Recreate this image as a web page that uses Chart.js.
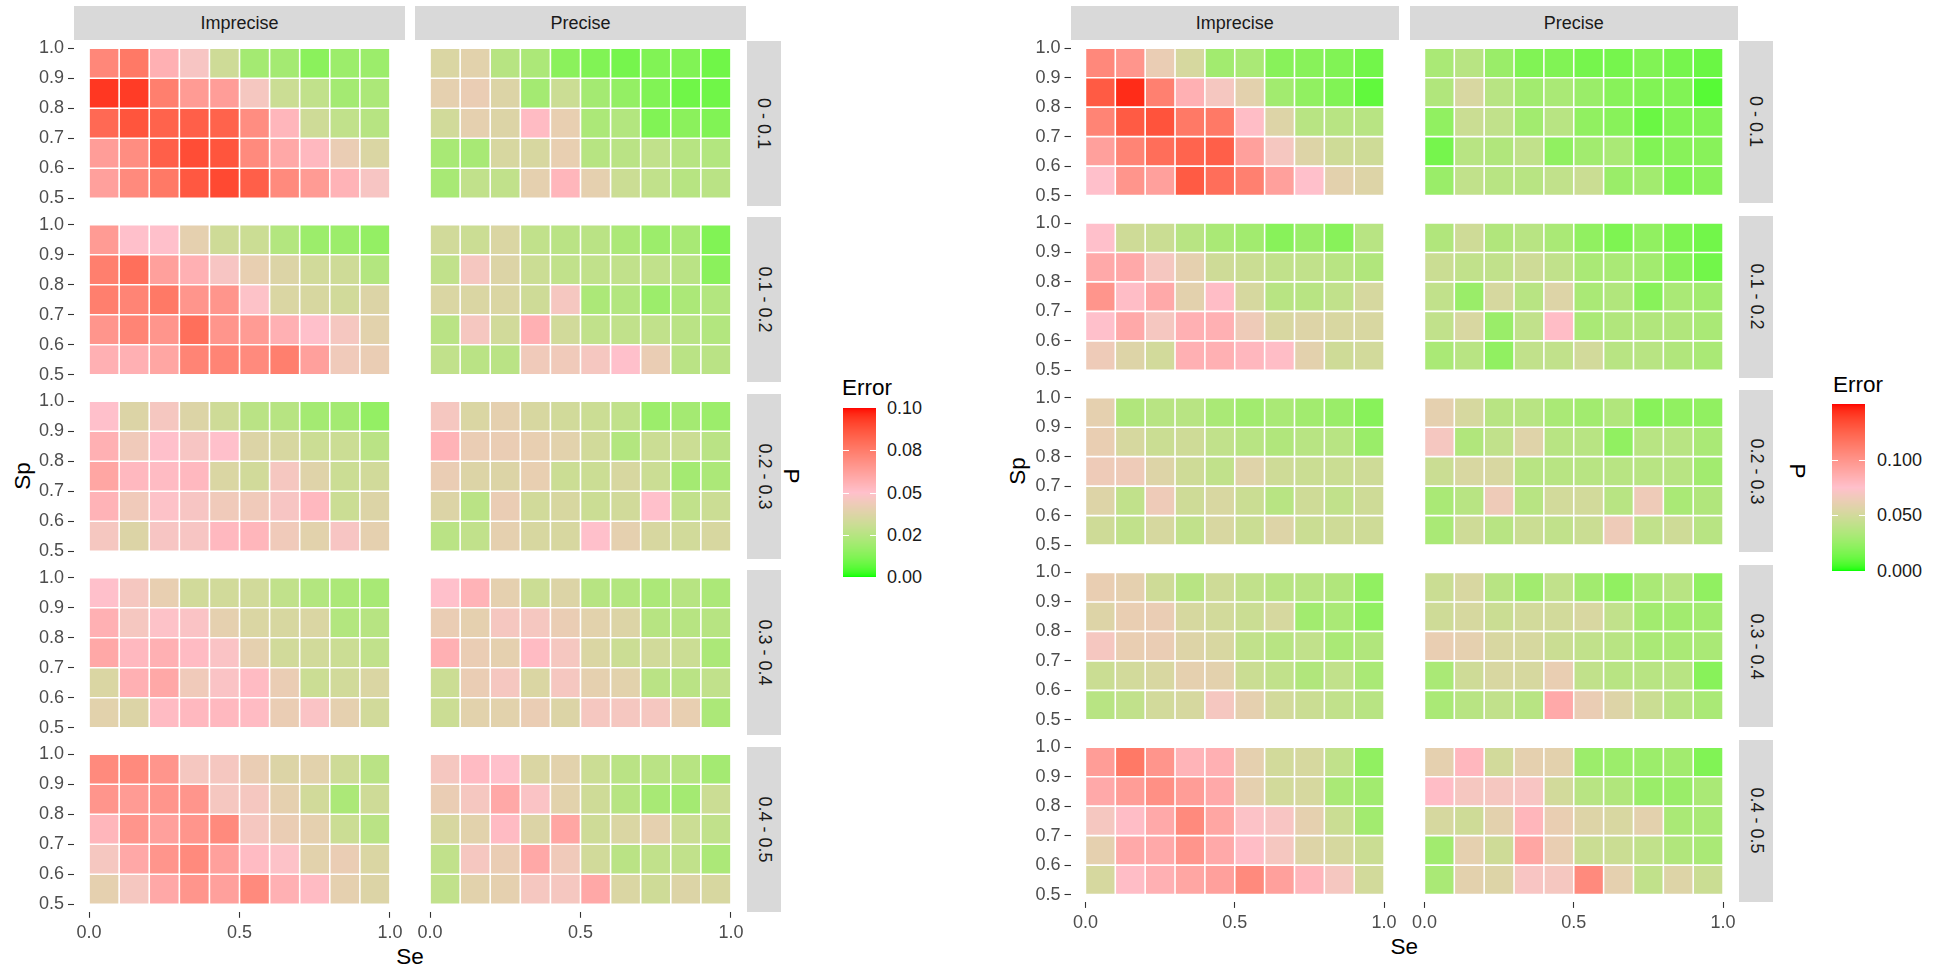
<!DOCTYPE html>
<html>
<head>
<meta charset="utf-8">
<script src="https://cdn.jsdelivr.net/npm/chart.js@4.4.1/dist/chart.umd.min.js"></script>
<style>
  html, body { margin: 0; padding: 0; background: #ffffff; }
  body { width: 1943px; height: 967px; position: relative; overflow: hidden;
         font-family: "Liberation Sans", Arial, sans-serif; }
  canvas { position: absolute; }
  .strip { position: absolute; background: #d9d9d9; color: #1a1a1a; font-size: 18px;
           display: flex; align-items: center; justify-content: center; white-space: nowrap; }
  .strip span.v { display: inline-block; transform: rotate(90deg); }
  .txt { position: absolute; white-space: nowrap; line-height: 1; }
</style>
</head>
<body>
<script>
// ---- categories and ticks ----
const seMid = [0.05, 0.15, 0.25, 0.35, 0.45, 0.55, 0.65, 0.75, 0.85, 0.95];
const spMid = [0.95, 0.85, 0.75, 0.65, 0.55];           // row order of every value grid
const pBands = ["0 - 0.1", "0.1 - 0.2", "0.2 - 0.3", "0.3 - 0.4", "0.4 - 0.5"];
const methods = ["Imprecise", "Precise"];
const xTicks = [0, 0.5, 1];
const yTicks = [0.5, 0.6, 0.7, 0.8, 0.9, 1.0];
const leftBreaks = [0, 0.025, 0.05, 0.075, 0.1];
const leftBreakLabels = ["0.00", "0.02", "0.05", "0.08", "0.10"];
const rightBreaks = [0, 0.05, 0.1];
const rightBreakLabels = ["0.000", "0.050", "0.100"];

// ---- Error values: [P band][Sp row][Se column] ----
const leftImprecise = [
  [[0.071,0.076,0.056,0.047,0.032,0.020,0.020,0.014,0.018,0.018],
   [0.094,0.093,0.074,0.064,0.063,0.046,0.031,0.028,0.020,0.022],
   [0.081,0.087,0.083,0.084,0.083,0.069,0.054,0.032,0.028,0.025],
   [0.063,0.069,0.084,0.089,0.087,0.070,0.059,0.053,0.042,0.036],
   [0.062,0.070,0.076,0.086,0.090,0.084,0.070,0.064,0.055,0.047]],
  [[0.064,0.050,0.050,0.040,0.032,0.031,0.024,0.018,0.018,0.016],
   [0.074,0.079,0.062,0.056,0.047,0.041,0.037,0.033,0.032,0.024],
   [0.074,0.072,0.076,0.066,0.066,0.049,0.036,0.035,0.033,0.037],
   [0.066,0.072,0.066,0.079,0.066,0.064,0.056,0.050,0.046,0.039],
   [0.056,0.056,0.060,0.072,0.072,0.070,0.074,0.062,0.044,0.042]],
  [[0.050,0.037,0.046,0.037,0.032,0.026,0.025,0.020,0.020,0.016],
   [0.056,0.044,0.050,0.047,0.050,0.037,0.035,0.031,0.031,0.026],
   [0.060,0.053,0.052,0.053,0.036,0.033,0.046,0.038,0.031,0.033],
   [0.055,0.044,0.049,0.047,0.044,0.044,0.047,0.053,0.031,0.037],
   [0.046,0.037,0.047,0.047,0.053,0.054,0.044,0.039,0.047,0.040]],
  [[0.050,0.046,0.041,0.033,0.033,0.033,0.028,0.024,0.022,0.021],
   [0.056,0.046,0.049,0.048,0.040,0.036,0.035,0.036,0.024,0.025],
   [0.059,0.053,0.056,0.052,0.048,0.040,0.033,0.033,0.031,0.028],
   [0.036,0.056,0.059,0.044,0.048,0.052,0.042,0.031,0.033,0.036],
   [0.039,0.037,0.052,0.053,0.053,0.052,0.042,0.048,0.040,0.033]],
  [[0.070,0.070,0.066,0.046,0.046,0.042,0.037,0.039,0.032,0.026],
   [0.066,0.064,0.066,0.066,0.046,0.046,0.040,0.033,0.022,0.032],
   [0.054,0.066,0.062,0.066,0.070,0.046,0.042,0.040,0.031,0.026],
   [0.046,0.059,0.066,0.070,0.062,0.052,0.049,0.039,0.042,0.036],
   [0.040,0.046,0.059,0.066,0.062,0.070,0.056,0.052,0.040,0.037]]
];

const leftPrecise = [
  [[0.036,0.039,0.025,0.022,0.014,0.012,0.010,0.012,0.012,0.009],
   [0.040,0.042,0.037,0.020,0.031,0.020,0.016,0.012,0.009,0.009],
   [0.033,0.040,0.037,0.052,0.041,0.022,0.024,0.012,0.014,0.012],
   [0.021,0.021,0.035,0.035,0.041,0.025,0.026,0.028,0.025,0.024],
   [0.021,0.028,0.028,0.040,0.054,0.040,0.031,0.028,0.025,0.026]],
  [[0.033,0.031,0.036,0.028,0.026,0.026,0.022,0.018,0.021,0.012],
   [0.028,0.046,0.037,0.031,0.028,0.028,0.028,0.028,0.026,0.014],
   [0.036,0.036,0.036,0.032,0.046,0.022,0.024,0.018,0.022,0.024],
   [0.026,0.046,0.033,0.056,0.033,0.028,0.028,0.028,0.026,0.024],
   [0.028,0.026,0.026,0.044,0.044,0.046,0.050,0.042,0.026,0.026]],
  [[0.046,0.036,0.040,0.035,0.033,0.031,0.028,0.018,0.020,0.018],
   [0.055,0.042,0.042,0.041,0.039,0.033,0.024,0.031,0.031,0.026],
   [0.042,0.037,0.037,0.041,0.031,0.031,0.035,0.031,0.020,0.022],
   [0.037,0.026,0.042,0.033,0.035,0.031,0.033,0.050,0.028,0.031],
   [0.026,0.028,0.040,0.035,0.035,0.050,0.040,0.035,0.033,0.035]],
  [[0.050,0.055,0.040,0.031,0.037,0.025,0.024,0.022,0.025,0.022],
   [0.042,0.040,0.046,0.046,0.042,0.039,0.037,0.025,0.025,0.025],
   [0.056,0.042,0.040,0.052,0.046,0.036,0.031,0.033,0.031,0.022],
   [0.031,0.042,0.046,0.036,0.046,0.040,0.039,0.026,0.026,0.028],
   [0.031,0.039,0.039,0.042,0.037,0.046,0.046,0.046,0.041,0.022]],
  [[0.046,0.052,0.050,0.036,0.039,0.031,0.026,0.026,0.025,0.020],
   [0.042,0.046,0.059,0.048,0.039,0.032,0.025,0.021,0.020,0.031],
   [0.035,0.039,0.052,0.037,0.060,0.032,0.036,0.040,0.031,0.028],
   [0.028,0.046,0.042,0.059,0.044,0.033,0.026,0.028,0.028,0.022],
   [0.028,0.039,0.040,0.046,0.046,0.059,0.036,0.032,0.037,0.035]]
];

const rightImprecise = [
  [[0.106,0.099,0.063,0.052,0.029,0.032,0.020,0.020,0.018,0.014],
   [0.128,0.144,0.110,0.084,0.069,0.059,0.029,0.023,0.018,0.010],
   [0.108,0.128,0.131,0.114,0.114,0.077,0.056,0.038,0.038,0.038],
   [0.093,0.108,0.119,0.124,0.126,0.093,0.069,0.056,0.048,0.048],
   [0.075,0.099,0.093,0.128,0.119,0.110,0.093,0.075,0.059,0.056]],
  [[0.075,0.048,0.046,0.038,0.032,0.029,0.020,0.026,0.020,0.038],
   [0.088,0.088,0.069,0.060,0.048,0.046,0.042,0.042,0.038,0.035],
   [0.099,0.077,0.088,0.059,0.077,0.052,0.038,0.038,0.042,0.052],
   [0.075,0.088,0.069,0.084,0.084,0.065,0.053,0.056,0.053,0.053],
   [0.065,0.056,0.050,0.084,0.084,0.080,0.077,0.059,0.048,0.050]],
  [[0.060,0.035,0.038,0.038,0.032,0.029,0.032,0.029,0.026,0.020],
   [0.062,0.052,0.046,0.048,0.042,0.038,0.035,0.038,0.038,0.026],
   [0.065,0.065,0.056,0.048,0.042,0.057,0.048,0.046,0.046,0.048],
   [0.056,0.042,0.065,0.048,0.053,0.046,0.038,0.048,0.042,0.048],
   [0.048,0.042,0.052,0.042,0.053,0.046,0.056,0.046,0.048,0.048]],
  [[0.062,0.060,0.048,0.038,0.048,0.042,0.038,0.038,0.035,0.023],
   [0.056,0.062,0.063,0.052,0.050,0.046,0.052,0.029,0.032,0.023],
   [0.069,0.062,0.063,0.056,0.053,0.042,0.038,0.042,0.032,0.035],
   [0.046,0.050,0.053,0.060,0.059,0.046,0.042,0.035,0.042,0.032],
   [0.038,0.042,0.050,0.052,0.069,0.060,0.050,0.046,0.042,0.038]],
  [[0.095,0.114,0.099,0.082,0.084,0.060,0.050,0.052,0.042,0.023],
   [0.088,0.095,0.102,0.095,0.088,0.060,0.050,0.052,0.032,0.029],
   [0.069,0.077,0.088,0.105,0.090,0.073,0.071,0.060,0.046,0.029],
   [0.060,0.088,0.088,0.099,0.088,0.077,0.069,0.056,0.052,0.046],
   [0.052,0.077,0.084,0.090,0.093,0.105,0.093,0.081,0.069,0.050]]
];

const rightPrecise = [
  [[0.032,0.038,0.026,0.018,0.018,0.015,0.015,0.018,0.015,0.012],
   [0.035,0.053,0.038,0.029,0.032,0.026,0.020,0.018,0.018,0.008],
   [0.023,0.046,0.042,0.029,0.038,0.023,0.020,0.012,0.018,0.018],
   [0.015,0.038,0.035,0.042,0.023,0.029,0.032,0.018,0.020,0.020],
   [0.026,0.042,0.038,0.038,0.042,0.046,0.026,0.029,0.018,0.020]],
  [[0.035,0.048,0.035,0.038,0.032,0.023,0.017,0.023,0.017,0.014],
   [0.046,0.042,0.042,0.048,0.042,0.032,0.032,0.029,0.020,0.014],
   [0.042,0.026,0.052,0.038,0.056,0.032,0.035,0.020,0.032,0.029],
   [0.042,0.053,0.026,0.042,0.077,0.032,0.035,0.035,0.035,0.032],
   [0.032,0.038,0.023,0.042,0.042,0.050,0.038,0.038,0.035,0.032]],
  [[0.060,0.052,0.038,0.038,0.032,0.029,0.035,0.020,0.023,0.023],
   [0.069,0.035,0.042,0.057,0.038,0.038,0.023,0.038,0.038,0.032],
   [0.046,0.053,0.053,0.038,0.038,0.038,0.038,0.038,0.038,0.029],
   [0.032,0.038,0.065,0.038,0.050,0.050,0.038,0.065,0.032,0.035],
   [0.032,0.048,0.038,0.046,0.042,0.046,0.065,0.042,0.048,0.038]],
  [[0.046,0.053,0.038,0.029,0.042,0.029,0.023,0.032,0.038,0.023],
   [0.048,0.052,0.046,0.050,0.050,0.053,0.042,0.029,0.029,0.029],
   [0.062,0.060,0.053,0.052,0.046,0.042,0.038,0.032,0.032,0.032],
   [0.032,0.048,0.053,0.052,0.062,0.042,0.038,0.038,0.038,0.020],
   [0.032,0.038,0.042,0.038,0.088,0.063,0.056,0.046,0.038,0.032]],
  [[0.060,0.080,0.050,0.060,0.059,0.027,0.027,0.027,0.029,0.018],
   [0.077,0.069,0.069,0.071,0.050,0.038,0.035,0.026,0.026,0.032],
   [0.052,0.048,0.059,0.081,0.062,0.056,0.053,0.059,0.032,0.032],
   [0.029,0.060,0.048,0.090,0.062,0.046,0.046,0.042,0.035,0.032],
   [0.032,0.059,0.056,0.071,0.069,0.105,0.060,0.042,0.056,0.046]]
];

// ---- fill colour: green -> pink -> red, interpolated in CIE Lab ----
const WHITE = [0.95047, 1.0, 1.08883];
function toLin(c) { c /= 255; return c <= 0.04045 ? c / 12.92 : Math.pow((c + 0.055) / 1.055, 2.4); }
function fromLin(c) {
  const v = c <= 0.0031308 ? 12.92 * c : 1.055 * Math.pow(Math.max(c, 0), 1 / 2.4) - 0.055;
  return Math.round(Math.min(1, Math.max(0, v)) * 255);
}
function fLab(t) { return t > 0.008856 ? Math.cbrt(t) : 7.787 * t + 16 / 116; }
function fInv(t) { return t > 0.206893 ? t * t * t : (t - 16 / 116) / 7.787; }
function rgbToLab(rgb) {
  const [r, g, b] = rgb.map(toLin);
  const X = 0.4124 * r + 0.3576 * g + 0.1805 * b;
  const Y = 0.2126 * r + 0.7152 * g + 0.0722 * b;
  const Z = 0.0193 * r + 0.1192 * g + 0.9505 * b;
  const fx = fLab(X / WHITE[0]), fy = fLab(Y / WHITE[1]), fz = fLab(Z / WHITE[2]);
  return [116 * fy - 16, 500 * (fx - fy), 200 * (fy - fz)];
}
function labToCss(lab) {
  const fy = (lab[0] + 16) / 116, fx = fy + lab[1] / 500, fz = fy - lab[2] / 200;
  const X = WHITE[0] * fInv(fx), Y = WHITE[1] * fInv(fy), Z = WHITE[2] * fInv(fz);
  const r = 3.2406 * X - 1.5372 * Y - 0.4986 * Z;
  const g = -0.9689 * X + 1.8758 * Y + 0.0415 * Z;
  const b = 0.0557 * X - 0.2040 * Y + 1.0570 * Z;
  return `rgb(${fromLin(r)},${fromLin(g)},${fromLin(b)})`;
}
const LOW = rgbToLab([0, 255, 0]), MID = rgbToLab([255, 192, 203]), HIGH = rgbToLab([255, 0, 0]);
function errorColor(v, maxErr) {
  let t = Math.min(1, Math.max(0, v / maxErr)) * 2;
  const a = t <= 1 ? LOW : MID, b = t <= 1 ? MID : HIGH;
  if (t > 1) t -= 1;
  return labToCss([0, 1, 2].map(i => a[i] + (b[i] - a[i]) * t));
}

// ---- page layout of the two figures ----
const FONT = '"Liberation Sans", Arial, sans-serif';
Chart.defaults.font.family = FONT;

const figures = [
  { grids: [leftImprecise, leftPrecise], maxErr: 0.1,
    x0: [74, 415], panelW: 331, y0: 40.8, panelH: 165, rowStep: 176.5,
    stripTop: 6, seY: 956.7, spX: 23, pX: 791,
    legend: { titleX: 842, titleY: 388, barX: 843, barTop: 408, barW: 33, barH: 169, labelX: 887,
              breaks: leftBreaks, labels: leftBreakLabels } },
  { grids: [rightImprecise, rightPrecise], maxErr: 0.15,
    x0: [1070.5, 1409.5], panelW: 328.5, y0: 40.9, panelH: 162, rowStep: 174.75,
    stripTop: 6, seY: 946.7, spX: 1018, pX: 1797,
    legend: { titleX: 1833, titleY: 385, barX: 1832, barTop: 404, barW: 33, barH: 167, labelX: 1877,
              breaks: rightBreaks, labels: rightBreakLabels } }
];

function addText(text, css, cls) {
  const d = document.createElement('div');
  d.className = cls || 'txt';
  d.textContent = text;
  Object.assign(d.style, css);
  document.body.appendChild(d);
  return d;
}

function drawStrips(fig) {
  methods.forEach((m, c) => {
    addText(m, { left: fig.x0[c] + 'px', top: fig.stripTop + 'px', width: fig.panelW + 'px',
                 height: (fig.y0 - fig.stripTop - 0.5) + 'px' }, 'strip');
  });
  const sx = fig.x0[1] + fig.panelW + 1;
  pBands.forEach((p, r) => {
    const d = addText('', { left: sx + 'px', top: (fig.y0 + r * fig.rowStep) + 'px', width: '34px',
                            height: fig.panelH + 'px' }, 'strip');
    const s = document.createElement('span');
    s.className = 'v';
    s.textContent = p;
    d.appendChild(s);
  });
}

function drawTitles(fig) {
  const top = fig.y0, bottom = fig.y0 + (pBands.length - 1) * fig.rowStep + fig.panelH;
  const midY = (top + bottom) / 2;
  const midX = (fig.x0[0] + fig.x0[1] + fig.panelW) / 2;
  const base = { fontSize: '22.5px', color: '#000' };
  addText('Se', Object.assign({ left: midX + 'px', top: fig.seY + 'px', transform: 'translate(-50%,-50%)' }, base));
  addText('Sp', Object.assign({ left: fig.spX + 'px', top: midY + 'px', transform: 'translate(-50%,-50%) rotate(-90deg)' }, base));
  addText('P', Object.assign({ left: fig.pX + 'px', top: midY + 'px', transform: 'translate(-50%,-50%) rotate(90deg)' }, base));
}

function drawLegend(fig) {
  const L = fig.legend;
  addText('Error', { left: L.titleX + 'px', top: L.titleY + 'px', fontSize: '22.5px', color: '#000',
                     transform: 'translateY(-50%)' });
  const cv = document.createElement('canvas');
  cv.width = L.barW; cv.height = L.barH;
  cv.style.cssText = `left:${L.barX}px;top:${L.barTop}px;width:${L.barW}px;height:${L.barH}px`;
  document.body.appendChild(cv);
  const g = cv.getContext('2d');
  for (let y = 0; y < L.barH; y++) {
    g.fillStyle = errorColor(fig.maxErr * (1 - (y + 0.5) / L.barH), fig.maxErr);
    g.fillRect(0, y, L.barW, 1);
  }
  g.strokeStyle = '#ffffff';
  g.lineWidth = 1;
  L.breaks.forEach((b, i) => {
    const y = L.barH * (1 - b / fig.maxErr);
    if (b > 0 && b < fig.maxErr) {
      const yy = Math.round(y) + 0.5;
      g.beginPath();
      g.moveTo(0, yy); g.lineTo(6, yy);
      g.moveTo(L.barW - 6, yy); g.lineTo(L.barW, yy);
      g.stroke();
    }
    addText(L.labels[i], { left: L.labelX + 'px', top: (L.barTop + y) + 'px', fontSize: '18px', color: '#1a1a1a',
                           transform: 'translateY(-50%)' });
  });
}

function drawPanel(fig, col, row) {
  const AXW = 44, AXH = 44, PAD = 16;
  const isLeft = col === 0, isBottom = row === pBands.length - 1;
  const px = fig.x0[col], py = fig.y0 + row * fig.rowStep;
  const boxL = px - (isLeft ? AXW : 0), boxT = py;
  const boxR = px + fig.panelW, boxB = py + fig.panelH + (isBottom ? AXH : 0);
  const cl = Math.floor(boxL - PAD), ct = Math.floor(boxT - PAD);
  const cw = Math.ceil(boxR + PAD) - cl, ch = Math.ceil(boxB + PAD) - ct;

  const canvas = document.createElement('canvas');
  canvas.width = cw; canvas.height = ch;
  canvas.style.cssText = `left:${cl}px;top:${ct}px;width:${cw}px;height:${ch}px`;
  document.body.appendChild(canvas);

  const cells = [];
  fig.grids[col][row].forEach((vals, r) => vals.forEach((v, c) => {
    cells.push({ x: seMid[c], y: [spMid[r] - 0.05, spMid[r] + 0.05], v: v });
  }));

  const tickFont = { size: 18, family: FONT };
  const gridOpts = () => ({ display: true, offset: false, drawOnChartArea: false, drawTicks: true, tickLength: 6,
                            tickColor: '#333333', tickWidth: 1.1 });
  new Chart(canvas, {
    type: 'bar',
    data: { datasets: [{
      data: cells,
      backgroundColor: ctx => errorColor(ctx.raw.v, fig.maxErr),
      borderColor: '#ffffff', borderWidth: 0.8, borderSkipped: false, inflateAmount: 0,
      barPercentage: 1, categoryPercentage: 1
    }] },
    options: {
      responsive: false, animation: false, devicePixelRatio: 1, events: [],
      layout: { padding: { left: boxL - cl, top: boxT - ct, right: cl + cw - boxR, bottom: ct + ch - boxB } },
      plugins: { legend: { display: false }, tooltip: { enabled: false } },
      scales: {
        x: {
          type: 'linear', min: -0.05, max: 1.05, display: isBottom, offset: false,
          afterBuildTicks: s => { s.ticks = xTicks.map(v => ({ value: v })); },
          afterFit: s => { if (isBottom) s.height = AXH; s.paddingLeft = 0; s.paddingRight = 0; s.paddingTop = 0; s.paddingBottom = 0; },
          grid: gridOpts(), border: { display: false },
          ticks: { padding: 4, color: '#4d4d4d', font: tickFont, autoSkip: false, maxRotation: 0, minRotation: 0,
                   callback: v => Number(v).toFixed(1) }
        },
        y: {
          type: 'linear', min: 0.475, max: 1.025, display: isLeft,
          afterBuildTicks: s => { s.ticks = yTicks.map(v => ({ value: v })); },
          afterFit: s => { if (isLeft) s.width = AXW; s.paddingLeft = 0; s.paddingRight = 0; s.paddingTop = 0; s.paddingBottom = 0; },
          grid: gridOpts(), border: { display: false },
          ticks: { padding: 4, color: '#4d4d4d', font: tickFont, autoSkip: false,
                   callback: v => Number(v).toFixed(1) }
        }
      }
    }
  });
}

figures.forEach(fig => {
  drawStrips(fig);
  drawTitles(fig);
  drawLegend(fig);
  methods.forEach((m, c) => pBands.forEach((p, r) => drawPanel(fig, c, r)));
});
</script>
</body>
</html>
